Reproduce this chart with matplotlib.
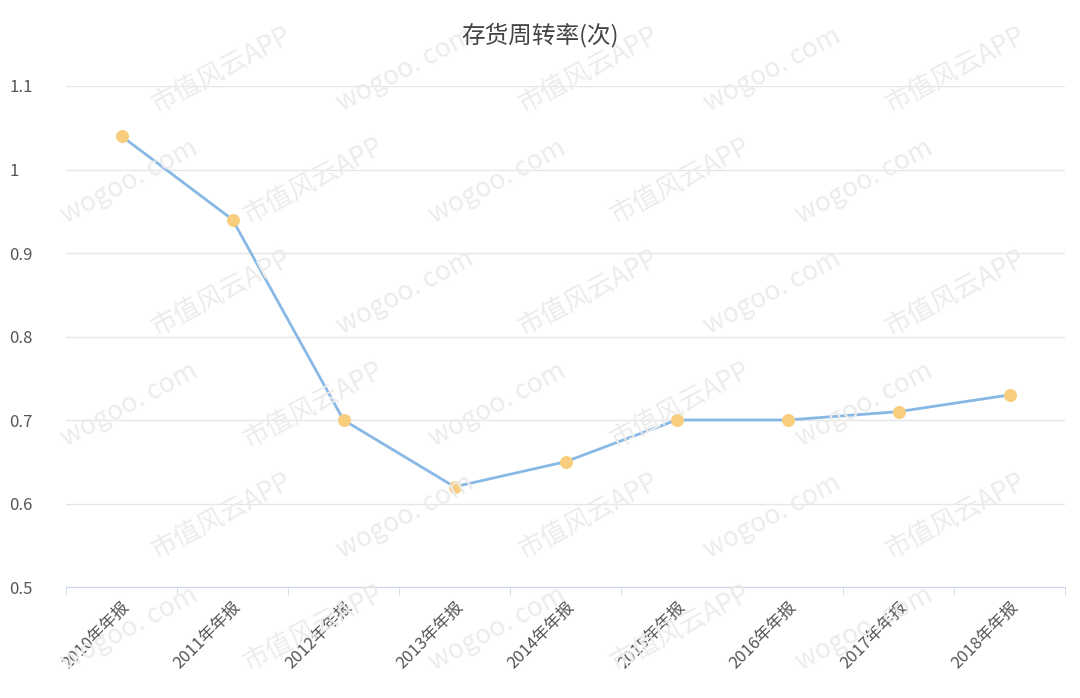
import matplotlib
matplotlib.use("Agg")
import matplotlib.pyplot as plt

plt.rcParams['font.family'] = ['Noto Sans CJK SC', 'DejaVu Sans']

categories = ["2010年年报","2011年年报","2012年年报","2013年年报","2014年年报","2015年年报","2016年年报","2017年年报","2018年年报"]
values = [1.04, 0.94, 0.70, 0.62, 0.65, 0.70, 0.70, 0.71, 0.73]
yticks = [0.5, 0.6, 0.7, 0.8, 0.9, 1.0, 1.1]
yticklabels = ["0.5","0.6","0.7","0.8","0.9","1","1.1"]

fig = plt.figure(figsize=(10.8, 6.98), dpi=100)
ax = fig.add_axes([66/1080, 1-587/698, 999/1080, (587-86)/698])

# watermark (kept fully inside the figure)
for i in range(0, 6):
    for j in range(0, 6):
        x = 0.12 + i * 0.17 + (j % 2) * 0.085
        y = 0.1 + j * 0.16
        if x > 0.9:
            continue
        fig.text(x, y, "市值风云APP" if (i + j) % 2 else "wogoo. com", rotation=28,
                 fontsize=19, color="#ececec", ha="center", va="center", zorder=0)

x = range(len(categories))
ax.plot(x, values, color="#88b8e6", lw=2, zorder=3)
ax.scatter(x, values, s=70, color="#f8cd7e", zorder=4)
ax.set_xlim(-0.5, len(categories) - 0.5)
ax.set_ylim(0.5, 1.1)
ax.set_yticks(yticks)
ax.set_yticklabels(yticklabels, fontsize=12, color="#555555")
ax.set_xticks(x)
ax.set_xticklabels(categories, rotation=45, ha="right", rotation_mode="anchor", fontsize=12, color="#555555")
ax.set_xticks([i - 0.5 for i in range(len(categories) + 1)], minor=True)
ax.tick_params(axis='x', which='major', length=0, pad=8)
ax.tick_params(axis='x', which='minor', length=6, color="#ccd6eb")
ax.tick_params(axis='y', length=0, pad=41)
for t in ax.get_yticklabels():
    t.set_ha("left")
ax.grid(axis='y', color="#e6e6e6", lw=1)
for s in ["top", "right", "left"]:
    ax.spines[s].set_visible(False)
ax.spines["bottom"].set_color("#ccd6eb")
ax.patch.set_alpha(0)
fig.text(540/1080, 1-35/698, "存货周转率(次)", ha="center", va="center", fontsize=17, color="#444444")
fig.savefig("out.png", dpi=100)
